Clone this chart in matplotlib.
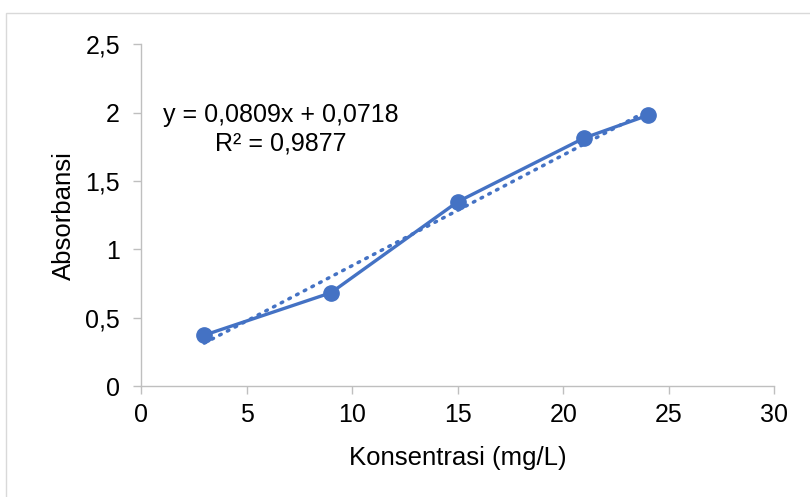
import matplotlib
matplotlib.use("Agg")
import matplotlib.pyplot as plt
from matplotlib.patches import Rectangle
import numpy as np

plt.rcParams['font.family'] = ['Liberation Sans', 'DejaVu Sans']

konsentrasi = [3, 9, 15, 21, 24]
absorbansi = [0.373, 0.683, 1.348, 1.815, 1.98]
slope = 0.0809
intercept = 0.0718
eq_text = "y = 0,0809x + 0,0718\nR² = 0,9877"
xticks = [0, 5, 10, 15, 20, 25, 30]
yticks = [0, 0.5, 1, 1.5, 2, 2.5]
ytick_labels = ["0", "0,5", "1", "1,5", "2", "2,5"]

color = "#4472C4"
fs = 18

fig = plt.figure(figsize=(8.1, 4.97), dpi=100)
fig.patches.append(Rectangle((0.007, -0.01), 1.01, 0.983, transform=fig.transFigure,
                             fill=False, edgecolor="#D9D9D9", linewidth=1.0))
ax = fig.add_axes([0.174, 0.223, 0.782, 0.688])

ax.plot(konsentrasi, absorbansi, color=color, linewidth=2.4, marker='o',
        markersize=11, zorder=3)
xt = np.array([konsentrasi[0], konsentrasi[-1]])
ax.plot(xt, slope * xt + intercept, color=color, linewidth=2.5,
        linestyle=(0, (0.5, 2.0)), dash_capstyle='round', zorder=2)

ax.set_xlim(0, 30)
ax.set_ylim(0, 2.5)
ax.set_xticks(xticks)
ax.set_xticklabels([str(t) for t in xticks])
ax.set_yticks(yticks)
ax.set_yticklabels(ytick_labels)

for s in ['top', 'right']:
    ax.spines[s].set_visible(False)
for s in ['left', 'bottom']:
    ax.spines[s].set_color("#BFBFBF")
    ax.spines[s].set_linewidth(1.0)
ax.tick_params(axis='both', colors="#BFBFBF", labelcolor="black", labelsize=fs,
               length=6, width=1.0)
ax.tick_params(axis='x', pad=6)
ax.tick_params(axis='y', pad=9)

ax.set_xlabel("Konsentrasi (mg/L)", fontsize=18.5, labelpad=14)
ax.set_ylabel("Absorbansi", fontsize=18.5, labelpad=7)

ax.text(6.63, 1.69, eq_text, fontsize=fs, ha='center', va='bottom',
        linespacing=1.2, multialignment='center')

fig.savefig("out.png", dpi=100)
